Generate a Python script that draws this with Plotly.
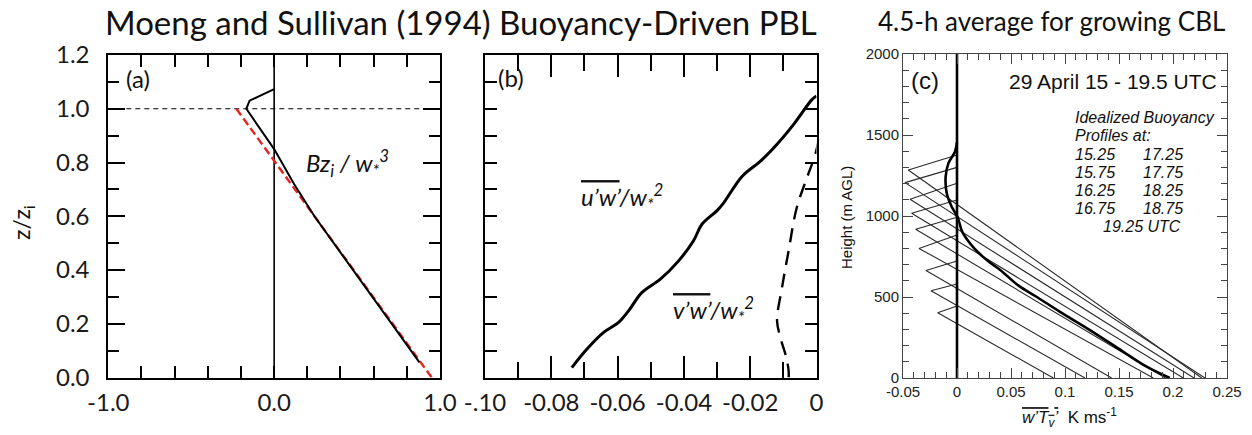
import plotly.graph_objects as go

W, H = 1252, 435

# ---------------- Panel (a): buoyancy flux ----------------
a_bz_x = [0.0, -0.148, -0.168, 0.0, 0.12, 0.243, 0.876]
a_bz_z = [1.073, 1.03, 1.0, 0.85, 0.72, 0.6, 0.056]
a_ideal_x = [-0.228, 0.95]
a_ideal_z = [1.0, 0.0]
zi_norm = 1.0
a_xrange = [-1.0, 1.0]
a_xticks = [-1.0, 0.0, 1.0]
a_xticktext = ["-1.0", "0.0", "1.0"]

# ---------------- Panel (b): momentum fluxes ----------------
uw_x = [-0.0738, -0.0693, -0.0643, -0.0597, -0.0567, -0.0527, -0.0471, -0.0416,
        -0.0371, -0.0345, -0.0300, -0.0280, -0.0224, -0.0169, -0.0119, -0.0069,
        -0.0013, 0.0]
uw_z = [0.037, 0.105, 0.167, 0.205, 0.248, 0.316, 0.366, 0.434,
        0.509, 0.571, 0.621, 0.650, 0.749, 0.805, 0.868, 0.942,
        1.035, 1.047]
vw_x = [-0.0084, -0.0084, -0.0091, -0.0109, -0.0119, -0.0104, -0.0084, -0.0060,
        -0.0028, -0.0003, 0.0010, 0.0022, 0.0]
vw_z = [0.0, 0.024, 0.074, 0.149, 0.211, 0.335, 0.472, 0.630,
        0.746, 0.833, 0.910, 1.010, 1.073]
b_xticks = [-0.10, -0.08, -0.06, -0.04, -0.02, 0.0]
b_xticktext = ["-.10", "-0.08", "-0.06", "-0.04", "-0.02", "0"]

# ---------------- Panel (c): observed CBL ----------------
times = [15.25, 15.75, 16.25, 16.75, 17.25, 17.75, 18.25, 18.75, 19.25]
prof_top_h = [444, 580, 722, 883, 992, 1099, 1202, 1300, 1377]
prof_min_x = [-0.0179, -0.0241, -0.0287, -0.0352, -0.0383, -0.0420, -0.0435, -0.0481, -0.0451]
prof_min_h = [403, 539, 663, 800, 918, 1017, 1103, 1206, 1284]
prof_sfc_x = [0.0892, 0.1185, 0.1432, 0.1818, 0.193, 0.2095, 0.2194, 0.2296, 0.2266]
avg_x = [0.0, -0.0019, -0.0080, -0.0105, -0.0095, -0.0049, 0.0006, 0.0050, 0.0160,
         0.0290, 0.0400, 0.0570, 0.0740, 0.0950, 0.1231, 0.1540, 0.1756, 0.1970]
avg_h = [1455, 1397, 1325, 1243, 1140, 1057, 992, 900, 800,
         720, 667, 570, 500, 410, 296, 162, 70, 0]
c_xticks = [-0.05, 0.0, 0.05, 0.1, 0.15, 0.2, 0.25]
c_xticktext = ["-0.05", "0", "0.05", "0.1", "0.15", "0.2", "0.25"]
c_yrange = [0, 2000]
legend_lines = ["Idealized Buoyancy", "Profiles at:"]
legend_col1 = ["15.25", "15.75", "16.25", "16.75"]
legend_col2 = ["17.25", "17.75", "18.25", "18.75"]
legend_last = "19.25 UTC"

CAL = "Lato"
ARI = "Liberation Sans, Arial"


def px(x):
    return x / W


def py(y):
    return 1 - y / H


fig = go.Figure()

# Panel (a)
fig.add_trace(go.Scatter(x=a_xrange, y=[zi_norm, zi_norm], mode="lines",
                         line=dict(color="black", width=1.2, dash="5px,4px"),
                         xaxis="x", yaxis="y", showlegend=False))
fig.add_trace(go.Scatter(x=[0, 0], y=[0, 1.2], mode="lines",
                         line=dict(color="black", width=1.6),
                         xaxis="x", yaxis="y", showlegend=False))
fig.add_trace(go.Scatter(x=a_ideal_x, y=a_ideal_z, mode="lines",
                         line=dict(color="#e8231f", width=2.4, dash="8px,4px"),
                         xaxis="x", yaxis="y", showlegend=False))
fig.add_trace(go.Scatter(x=a_bz_x, y=a_bz_z, mode="lines",
                         line=dict(color="black", width=2),
                         xaxis="x", yaxis="y", showlegend=False))

# Panel (b)
fig.add_trace(go.Scatter(x=uw_x, y=uw_z, mode="lines", line_shape="spline",
                         line=dict(color="black", width=3),
                         xaxis="x2", yaxis="y2", showlegend=False))
fig.add_trace(go.Scatter(x=vw_x, y=vw_z, mode="lines", line_shape="spline",
                         line=dict(color="black", width=2.4, dash="14px,9px"),
                         xaxis="x2", yaxis="y2", showlegend=False))

# Panel (c)
for t, th, mx, mh, sx in zip(times, prof_top_h, prof_min_x, prof_min_h, prof_sfc_x):
    fig.add_trace(go.Scatter(x=[0, mx, sx], y=[th, mh, 0], mode="lines",
                             name=f"{t} UTC",
                             line=dict(color="#2b2b2b", width=1.1),
                             xaxis="x3", yaxis="y3", showlegend=False))
fig.add_trace(go.Scatter(x=[0, 0], y=c_yrange, mode="lines",
                         line=dict(color="black", width=2.6),
                         xaxis="x3", yaxis="y3", showlegend=False))
fig.add_trace(go.Scatter(x=avg_x, y=avg_h, mode="lines", line_shape="spline",
                         line=dict(color="black", width=2.6),
                         xaxis="x3", yaxis="y3", showlegend=False))

axis_ab = dict(showgrid=False, zeroline=False, showline=True, linecolor="black",
               linewidth=2, mirror="allticks", ticks="inside", tickcolor="black",
               tickwidth=2, automargin=False)
axis_c = dict(showgrid=False, zeroline=False, showline=True, linecolor="#444",
              linewidth=1, mirror="allticks", ticks="inside", tickcolor="#444",
              automargin=False)

layout = dict(
    width=W, height=H, margin=dict(l=0, r=0, t=0, b=0, autoexpand=False),
    paper_bgcolor="white", plot_bgcolor="white",
    xaxis=dict(axis_ab, domain=[px(108.3), px(440)], anchor="y", range=a_xrange,
               tickvals=a_xticks, ticktext=a_xticktext, ticklen=12,
               minor=dict(ticks="inside", dtick=0.2, ticklen=12, tickcolor="black", tickwidth=2),
               tickfont=dict(family=CAL, size=24, color="#1a1a1a"), ticklabelstandoff=3),
    yaxis=dict(axis_ab, domain=[py(377.5), py(55)], anchor="x", range=[0, 1.2],
               dtick=0.2, tickformat=".1f", ticklen=17,
               minor=dict(ticks="inside", dtick=0.1, ticklen=11, tickcolor="black", tickwidth=2),
               tickfont=dict(family=CAL, size=24, color="#1a1a1a"), ticklabelstandoff=12),
    xaxis2=dict(axis_ab, domain=[px(485), px(816.5)], anchor="y2", range=[-0.1, 0.0],
                tickvals=b_xticks, ticktext=b_xticktext, ticklen=22,
                minor=dict(ticks="inside", dtick=0.01, ticklen=16, tickcolor="black", tickwidth=2),
                tickfont=dict(family=CAL, size=24, color="#1a1a1a"), ticklabelstandoff=3),
    yaxis2=dict(axis_ab, domain=[py(377.5), py(55)], anchor="x2", range=[0, 1.2],
                dtick=0.1, ticklen=12, showticklabels=False),
    xaxis3=dict(axis_c, domain=[px(903), px(1227)], anchor="y3", range=[-0.05, 0.25],
                tickvals=c_xticks, ticktext=c_xticktext, ticklen=10,
                minor=dict(ticks="inside", dtick=0.01, ticklen=6, tickcolor="#444"),
                tickfont=dict(family=ARI, size=15, color="#222")),
    yaxis3=dict(axis_c, domain=[py(378), py(54)], anchor="x3", range=c_yrange,
                dtick=500, ticklen=10,
                minor=dict(ticks="inside", dtick=100, ticklen=6, tickcolor="#444"),
                tickfont=dict(family=ARI, size=15, color="#222")),
)

ann = []


def add(text, x, y, size, family, xanchor="center", yanchor="middle", color="#111", angle=0):
    ann.append(dict(text=text, x=px(x), y=py(y), xref="paper", yref="paper",
                    xanchor=xanchor, yanchor=yanchor, showarrow=False, textangle=angle,
                    font=dict(size=size, family=family, color=color)))


add("Moeng and Sullivan (1994) Buoyancy-Driven PBL", 461, 22, 33, CAL)
add("4.5-h average for growing CBL", 1051, 21, 26, CAL)
add("(a)", 124, 78, 24, CAL, xanchor="left")
add("(b)", 496, 77, 24, CAL, xanchor="left")
add("(c)", 909, 80, 24, ARI, xanchor="left")
add("<i>Bz<sub>i</sub> / w<sub>*</sub><sup>3</sup></i>", 304, 163, 24, CAL, xanchor="left")
add("<i><span style='text-decoration:overline'>u’w’</span>/w<sub>*</sub><sup>2</sup></i>",
    579, 197, 24, CAL, xanchor="left")
add("<i><span style='text-decoration:overline'>v’w’</span>/w<sub>*</sub><sup>2</sup></i>",
    671, 310, 24, CAL, xanchor="left")
add("z/z<sub>i</sub>", 23, 223, 23, CAL, angle=-90)
add("Height (m AGL)", 847, 218, 15, ARI, angle=-90)
add("<span style='text-decoration:overline'><i>w’T<sub>v</sub>’</i></span>  K ms<sup>-1</sup>",
    1069, 417, 17, ARI)
add("29 April 15 - 19.5 UTC", 1219, 82, 21, ARI, xanchor="right")

line_y0, dy = 117.7, 18.2
for i, t in enumerate(legend_lines):
    add(f"<i>{t}</i>", 1073, line_y0 + i * dy, 16, ARI, xanchor="left")
for i, (c1, c2) in enumerate(zip(legend_col1, legend_col2)):
    add(f"<i>{c1}</i>", 1073, line_y0 + (i + 2) * dy, 16, ARI, xanchor="left")
    add(f"<i>{c2}</i>", 1141, line_y0 + (i + 2) * dy, 16, ARI, xanchor="left")
add(f"<i>{legend_last}</i>", 1101, line_y0 + 6 * dy, 16, ARI, xanchor="left")

layout["annotations"] = ann
fig.update_layout(**layout)
fig.write_html("out.html")
